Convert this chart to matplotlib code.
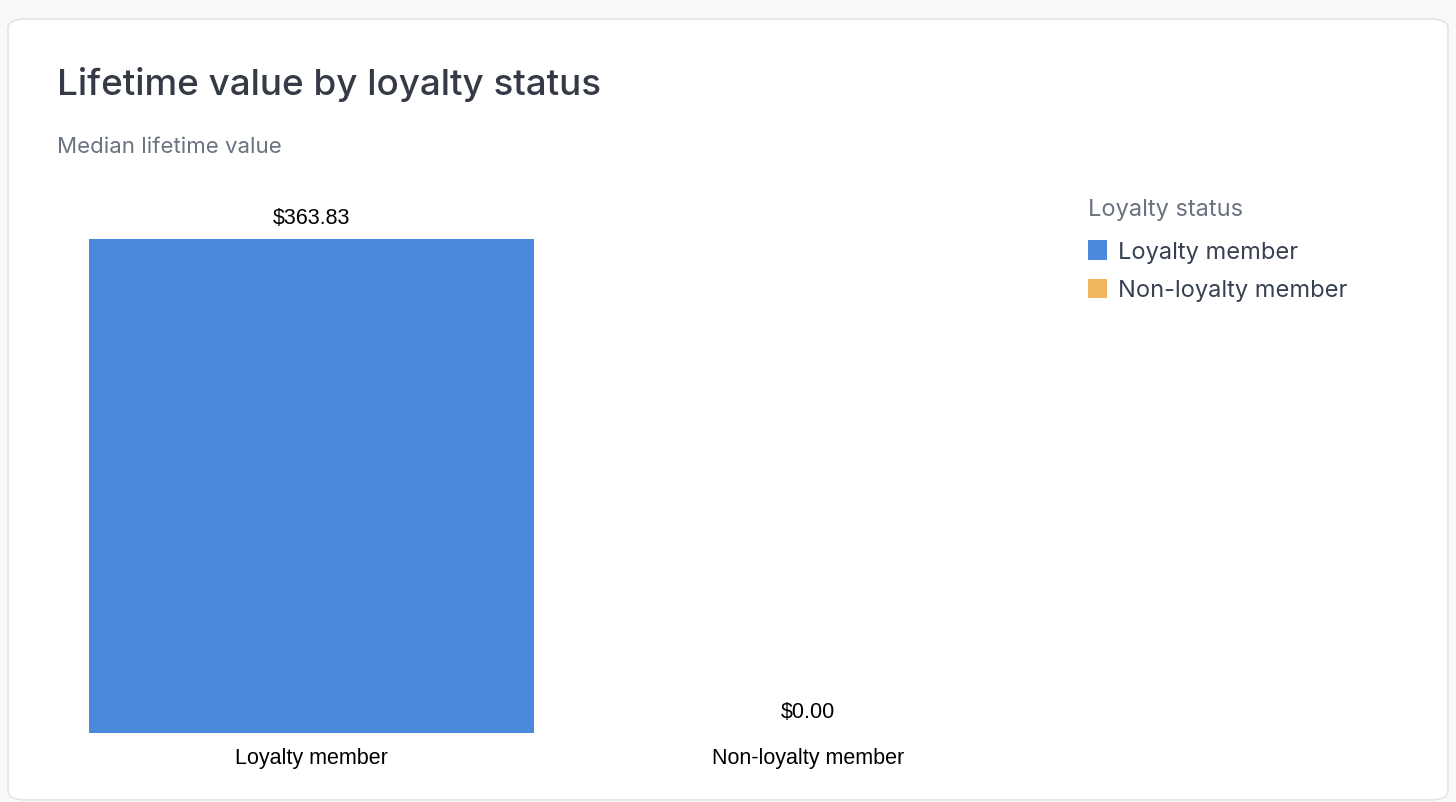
import matplotlib
matplotlib.use("Agg")
import matplotlib.pyplot as plt
from matplotlib.patches import FancyBboxPatch, Rectangle

categories = ["Loyalty member", "Non-loyalty member"]
values = [363.83, 0.00]
value_labels = ["$363.83", "$0.00"]
colors = ["#4a89dc", "#efb75f"]
title = "Lifetime value by loyalty status"
subtitle = "Median lifetime value"
legend_title = "Loyalty status"

W, H = 1456, 802
fig = plt.figure(figsize=(W / 100, H / 100), dpi=100)
fig.patch.set_facecolor("#f9f9f9")

def fx(px):
    return px / W

def fy(py):
    return 1 - py / H

# card
card = FancyBboxPatch((fx(8), fy(800)), fx(1448) - fx(8), fy(19) - fy(800),
                      boxstyle="round,pad=0,rounding_size=0.012",
                      transform=fig.transFigure, facecolor="white",
                      edgecolor="#e4e5ea", linewidth=1.2, zorder=-5)
fig.patches.append(card)

fig.text(fx(57), fy(84), title, fontsize=26.5, family="Inter", weight="medium",
         color="#343a46", va="center", ha="left")
fig.text(fx(57), fy(147), subtitle, fontsize=16, family="Inter", color="#6b7280",
         va="center", ha="left")

# axes
ax = fig.add_axes([fx(63), fy(733), fx(1056) - fx(63), fy(239) - fy(733)])
ax.set_facecolor("none")
x = list(range(len(categories)))
bars = ax.bar(x, values, width=0.897, color=colors, linewidth=0)
ax.set_xlim(-0.5, 1.5)
ax.set_ylim(0, max(values))
for spine in ax.spines.values():
    spine.set_visible(False)
ax.set_yticks([])
ax.set_xticks(x)
ax.set_xticklabels(categories, fontsize=15.5, family="Liberation Sans", color="black")
ax.tick_params(axis="x", length=0, pad=10.5)
for xi, v, lab in zip(x, values, value_labels):
    ax.annotate(lab, (xi, v), xytext=(0, 14.5), textcoords="offset points",
                ha="center", va="center", fontsize=15.5, family="Liberation Sans",
                color="black", annotation_clip=False)

# legend
fig.text(fx(1088), fy(210), legend_title, fontsize=17, family="Inter",
         color="#6b7280", va="center", ha="left")
for i, (cat, col) in enumerate(zip(categories, colors)):
    yc = 250 + i * 38
    fig.patches.append(Rectangle((fx(1088), fy(yc + 9.5)), fx(19), 19 / H,
                                 transform=fig.transFigure, facecolor=col,
                                 edgecolor="none"))
    fig.text(fx(1118), fy(yc + 3), cat, fontsize=17, family="Inter",
             color="#374151", va="center", ha="left")

fig.savefig("out.png", dpi=100, facecolor=fig.get_facecolor())
